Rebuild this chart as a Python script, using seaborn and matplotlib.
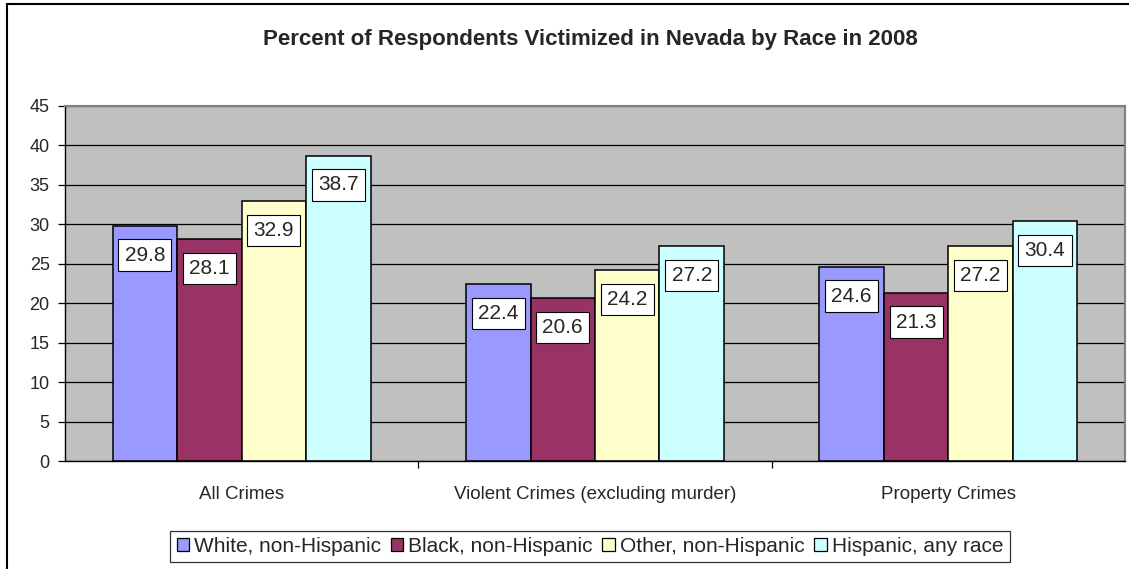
import matplotlib
matplotlib.use("Agg")
import matplotlib.pyplot as plt
from matplotlib.patches import Rectangle
import seaborn as sns
import pandas as pd

# data
categories = ["All Crimes", "Violent Crimes (excluding murder)", "Property Crimes"]
races = ["White, non-Hispanic", "Black, non-Hispanic", "Other, non-Hispanic", "Hispanic, any race"]
white = [29.8, 22.4, 24.6]
black = [28.1, 20.6, 21.3]
other = [32.9, 24.2, 27.2]
hispanic = [38.7, 27.2, 30.4]
colors = ["#9999FF", "#993366", "#FFFFCC", "#CCFFFF"]

rows = []
for race, vals in zip(races, [white, black, other, hispanic]):
    for cat, v in zip(categories, vals):
        rows.append({"category": cat, "race": race, "pct": v})
df = pd.DataFrame(rows)

sns.set_style("white")
plt.rcParams["font.family"] = ["Liberation Sans", "DejaVu Sans"]

fig = plt.figure(figsize=(11.29, 5.69), dpi=100)
ax = fig.add_axes([65 / 1129, 1 - 461 / 569, (1125 - 65) / 1129, (461 - 106) / 569])
ax.set_facecolor("#C0C0C0")

sns.barplot(data=df, x="category", y="pct", hue="race", hue_order=races,
            palette=colors, width=0.73, edgecolor="black", linewidth=1.1,
            saturation=1, ax=ax, legend=True)

# value boxes inside the top of each bar
for cont in ax.containers:
    for bar in cont:
        h = bar.get_height()
        ax.annotate(f"{h:.1f}", (bar.get_x() + bar.get_width() / 2, h),
                    xytext=(0, -21), textcoords="offset points",
                    ha="center", va="center", fontsize=15,
                    bbox=dict(boxstyle="square,pad=0.3", fc="white",
                              ec="black", lw=0.8))

ax.set_ylim(0, 45)
ax.set_xlim(-0.5, 2.5)
ax.set_yticks(range(0, 50, 5))
ax.yaxis.grid(True, color="black", lw=0.9)
ax.set_axisbelow(True)
ax.tick_params(axis="y", which="major", left=True, length=5, width=0.9,
               color="black", labelsize=13, pad=6)
ax.tick_params(axis="x", which="major", length=0, labelsize=13.5, pad=18)
ax.set_xticks([0.5, 1.5], minor=True)
ax.tick_params(axis="x", which="minor", bottom=True, length=5, width=0.9,
               color="black")
ax.set_xlabel("")
ax.set_ylabel("")

for side in ["left", "bottom"]:
    ax.spines[side].set_color("black")
    ax.spines[side].set_linewidth(1.0)
for side in ["top", "right"]:
    ax.spines[side].set_visible(True)
    ax.spines[side].set_color("#808080")
    ax.spines[side].set_linewidth(1.5)

handles, labels = ax.get_legend_handles_labels()
ax.legend_.remove()
leg = fig.legend(handles, labels, loc="center",
                 bbox_to_anchor=(590 / 1129, 1 - 546.5 / 569),
                 ncol=4, fontsize=15, frameon=True, fancybox=False,
                 edgecolor="black", handlelength=0.6, handleheight=0.6,
                 handletextpad=0.25, columnspacing=0.45, borderpad=0.3,
                 borderaxespad=0)
leg.get_frame().set_linewidth(0.9)
for hnd in leg.legend_handles:
    hnd.set_edgecolor("black")
    hnd.set_linewidth(0.9)

fig.text(590 / 1129, 1 - 40 / 569, "Percent of Respondents Victimized in Nevada by Race in 2008",
         ha="center", va="center", fontsize=16, fontweight="bold")

# outer chart border (top and left visible)
fig.patches.append(Rectangle((7 / 1129, -0.2), 2, 1.2 - 4 / 569,
                             transform=fig.transFigure, fill=False,
                             ec="black", lw=1.5))

fig.savefig("out.png", dpi=100)
